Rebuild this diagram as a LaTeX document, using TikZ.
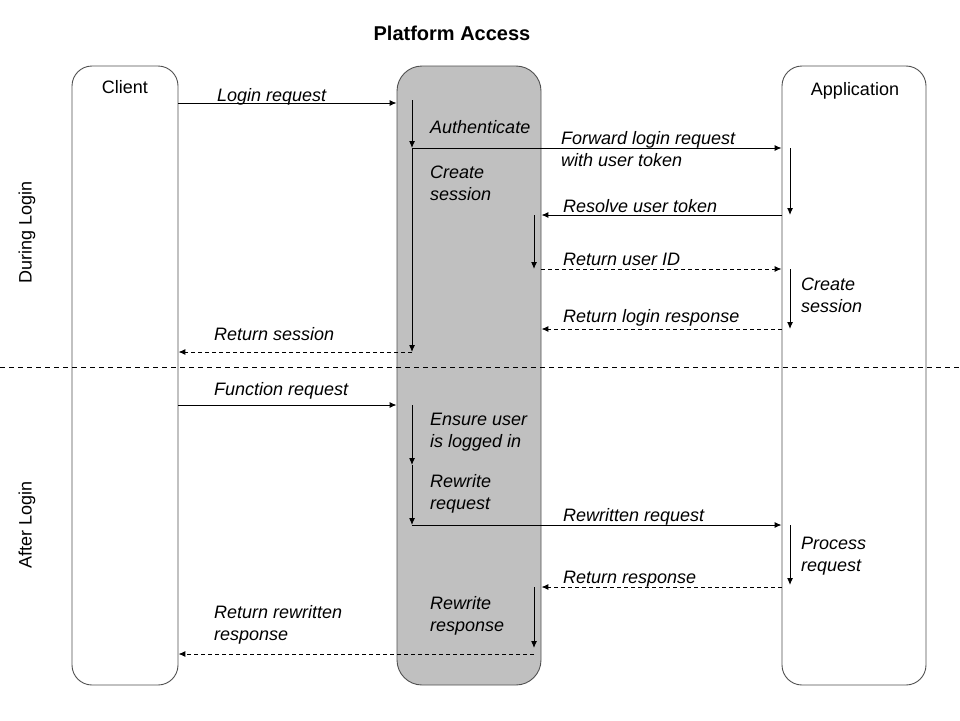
\documentclass[tikz,border=0pt]{standalone}
\usepackage{fontspec}
\setmainfont{Liberation Sans}
\usetikzlibrary{arrows.meta}
\tikzset{>={Latex[length=7pt,width=6pt]}}
\definecolor{laneline}{RGB}{80,80,80}
\definecolor{platgray}{RGB}{192,192,192}
\tikzset{
  lane/.style={draw=laneline,line width=0.9pt,rounded corners=20pt,minimum width=106pt,inner sep=0pt},
  msg/.style={->,line width=1pt},
  reply/.style={->,line width=1pt,dash pattern=on 4pt off 3pt},
  lbl/.style={anchor=base west,inner sep=0pt,align=left,font=\fontsize{18}{22}\selectfont\itshape},
}

\begin{document}
\begin{tikzpicture}[x=1pt,y=-1pt]
\useasboundingbox (0,0) rectangle (960,720);
% lanes
\node[lane,minimum height=619pt] (client) at (125,375.5) {};
\node[lane,minimum width=144pt,minimum height=619pt,fill=platgray,rounded corners=25pt] (platform) at (469,375.5) {};
\node[lane,minimum width=144pt,minimum height=619pt] (app) at (854,375.5) {};
\node[anchor=base,font=\fontsize{20}{24}\selectfont\bfseries] (title) at (452,40) {Platform Access};
\node[anchor=base,font=\fontsize{18}{22}\selectfont] (clientname) at (125,93) {Client};
\node[anchor=base,font=\fontsize{18}{22}\selectfont] (appname) at (855,95) {Application};
% phases
\draw[line width=1pt,dash pattern=on 5pt off 4pt] (0,367) coordinate (div1) -- (960,367) coordinate (div2);
\node[rotate=90,font=\fontsize{18}{22}\selectfont] (during) at (27,232) {During Login};
\node[rotate=90,font=\fontsize{18}{22}\selectfont] (after) at (27,525) {After Login};
% time marks on the lifelines
\coordinate (pa0) at (412,100);
\coordinate (pa1) at (412,148);
\coordinate (pa2) at (412,352);
\coordinate (pb0) at (534,215);
\coordinate (pb1) at (534,269);
\coordinate (ap0) at (790,148);
\coordinate (ap1) at (790,215);
\coordinate (ap2) at (790,269);
\coordinate (ap3) at (790,329);
\coordinate (pa3) at (412,405);
\coordinate (pa4) at (412,465);
\coordinate (pa5) at (412,525);
\coordinate (ap4) at (790,525);
\coordinate (ap5) at (790,585);
\coordinate (pb2) at (534,587);
\coordinate (pb3) at (534,648);
\coordinate (pb4) at (534,654);
\coordinate (t1) at (0,103);
\coordinate (t2) at (0,405);
% activations
\draw[msg] (pa0) -- (pa1);
\draw[msg] (pa1) -- (pa2);
\draw[msg] (ap0) -- (ap1);
\draw[msg] (pb0) -- (pb1);
\draw[msg] (ap2) -- (ap3);
\draw[msg] (pa3) -- (pa4);
\draw[msg] (pa4) -- (pa5);
\draw[msg] (ap4) -- (ap5);
\draw[msg] (pb2) -- (pb3);
% messages
\draw[msg] (client.east |- t1) -- (platform.west |- t1);
\draw[msg] (pa1) -- (app.west |- pa1);
\draw[msg] (app.west |- ap1) -- (platform.east |- ap1);
\draw[reply] (platform.east |- ap2) -- (app.west |- ap2);
\draw[reply] (app.west |- ap3) -- (platform.east |- ap3);
\draw[reply] (pa2) -- (client.east |- pa2);
\draw[msg] (client.east |- t2) -- (platform.west |- t2);
\draw[msg] (pa5) -- (app.west |- pa5);
\draw[reply] (app.west |- pb2) -- (platform.east |- pb2);
\draw[reply] (pb4) -- (client.east |- pb4);
% labels (base = last line)
\node[lbl] (l1) at (217,101) {Login request};
\node[lbl] (l2) at (430,133) {Authenticate};
\node[lbl] (l3) at (561,166) {Forward login request\\with user token};
\node[lbl] (l4) at (430,200) {Create\\session};
\node[lbl] (l5) at (563,212) {Resolve user token};
\node[lbl] (l6) at (563,265) {Return user ID};
\node[lbl] (l7) at (801,312) {Create\\session};
\node[lbl] (l8) at (563,322) {Return login response};
\node[lbl] (l9) at (214,340) {Return session};
\node[lbl] (l10) at (214,395) {Function request};
\node[lbl] (l11) at (430,447) {Ensure user\\is logged in};
\node[lbl] (l12) at (430,509) {Rewrite\\request};
\node[lbl] (l13) at (563,521) {Rewritten request};
\node[lbl] (l14) at (801,571) {Process\\request};
\node[lbl] (l15) at (563,583) {Return response};
\node[lbl] (l16) at (430,631) {Rewrite\\response};
\node[lbl] (l17) at (214,640) {Return rewritten\\response};
\end{tikzpicture}
\end{document}
